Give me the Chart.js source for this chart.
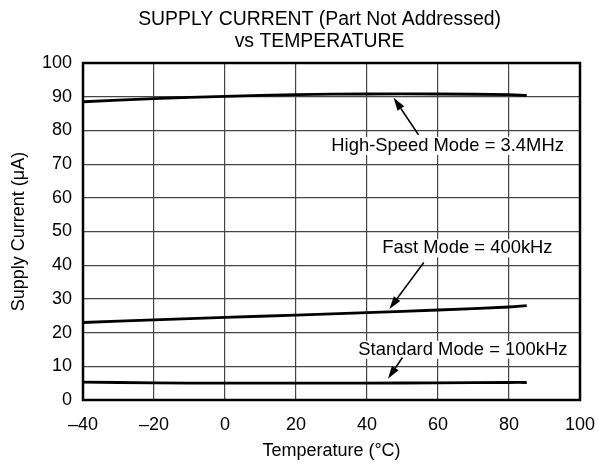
<!DOCTYPE html>
<html><head><meta charset="utf-8">
<script src="https://cdn.jsdelivr.net/npm/chart.js@4"></script>
<style>html,body{margin:0;padding:0;background:#fff}</style>
</head><body>
<canvas id="c" width="600" height="468"></canvas>
<script>
// ---- data ----
const temperatures = [-40, -20, 0, 20, 40, 60, 80, 85];
const highSpeedMode = [88.5, 89.4, 90.1, 90.6, 90.8, 90.8, 90.6, 90.4];
const fastMode = [23.0, 23.8, 24.5, 25.2, 25.9, 26.7, 27.6, 28.0];
const standardMode = [5.3, 5.1, 5.0, 5.0, 5.0, 5.1, 5.2, 5.2];
const xTickValues = [-40, -20, 0, 20, 40, 60, 80, 100];
const yTickValues = [0, 10, 20, 30, 40, 50, 60, 70, 80, 90, 100];
const titleLines = ['SUPPLY CURRENT (Part Not Addressed)', 'vs TEMPERATURE'];
const xAxisTitle = 'Temperature (\u00B0C)';
const yAxisTitle = 'Supply Current (\u03BCA)';
const labelTexts = ['High-Speed Mode = 3.4MHz', 'Fast Mode = 400kHz', 'Standard Mode = 100kHz'];
// label anchor (data units) and arrow tail -> tip (data units)
const labelAnchors = [[62.7, 75.4], [68.3, 45.0], [67.0, 14.9]];
const arrowTails = [[54.5, 78.7], [56.0, 40.8], [50.0, 12.6]];
const arrowTips = [[47.5, 89.7], [46.3, 27.0], [45.9, 6.3]];

const FONT = '"Liberation Sans", Arial, Helvetica, sans-serif';
const toPts = ys => temperatures.map((t, i) => ({x: t, y: ys[i]}));
const dash = v => String(v).replace('-', '\u2013');

const overlay = {
  id: 'overlay',
  afterDatasetsDraw(chart) {
    const {ctx, chartArea: a, scales: {x, y}} = chart;
    ctx.save();
    ctx.font = '18.4px ' + FONT;
    ctx.textAlign = 'center';
    ctx.textBaseline = 'middle';
    labelTexts.forEach((t, i) => {
      const px = x.getPixelForValue(labelAnchors[i][0]);
      const py = y.getPixelForValue(labelAnchors[i][1]);
      const w = ctx.measureText(t).width;
      ctx.fillStyle = '#fff';
      ctx.fillRect(px - w / 2 - 1, py - 9, w + 2, 18);
      ctx.fillStyle = '#000';
      ctx.fillText(t, px, py);
      // arrow
      const x0 = x.getPixelForValue(arrowTails[i][0]), y0 = y.getPixelForValue(arrowTails[i][1]);
      const x1 = x.getPixelForValue(arrowTips[i][0]), y1 = y.getPixelForValue(arrowTips[i][1]);
      const ang = Math.atan2(y1 - y0, x1 - x0);
      const L = 13, W = 4;
      const bx = x1 - L * Math.cos(ang), by = y1 - L * Math.sin(ang);
      ctx.strokeStyle = '#000';
      ctx.lineWidth = 1.5;
      ctx.beginPath(); ctx.moveTo(x0, y0); ctx.lineTo(bx, by); ctx.stroke();
      ctx.beginPath();
      ctx.moveTo(x1, y1);
      ctx.lineTo(bx + W * Math.sin(ang), by - W * Math.cos(ang));
      ctx.lineTo(bx - W * Math.sin(ang), by + W * Math.cos(ang));
      ctx.closePath(); ctx.fillStyle = '#000'; ctx.fill();
    });
    // frame
    ctx.strokeStyle = '#000';
    ctx.lineWidth = 2.5;
    ctx.strokeRect(a.left, a.top, a.right - a.left, a.bottom - a.top);
    // title
    ctx.font = '19.4px ' + FONT;
    ctx.fillStyle = '#000';
    const cx = a.left + (a.right - a.left) * 0.476;
    titleLines.forEach((t, i) => ctx.fillText(t, cx, a.top - 43 + i * 22));
    ctx.restore();
  }
};

new Chart(document.getElementById('c'), {
  type: 'line',
  data: {
    datasets: [
      {data: toPts(highSpeedMode)},
      {data: toPts(fastMode)},
      {data: toPts(standardMode)}
    ].map(d => Object.assign(d, {borderColor: '#000', borderWidth: 2.8, pointRadius: 0, tension: 0.4, fill: false}))
  },
  options: {
    responsive: false,
    animation: false,
    events: [],
    layout: {padding: {top: 63, right: 20, left: 0, bottom: 0}},
    plugins: {legend: {display: false}, tooltip: {enabled: false}, title: {display: false}},
    scales: {
      x: {
        type: 'linear', min: -40, max: 100,
        afterBuildTicks: s => { s.ticks = xTickValues.map(v => ({value: v})); },
        afterFit: s => { s.height = 68; s.paddingRight = 0; s.paddingLeft = 0; },
        grid: {color: '#444', lineWidth: 1.2, drawTicks: false},
        border: {display: false},
        ticks: {color: '#000', font: {size: 18, family: FONT}, padding: 14, callback: v => dash(v), maxRotation: 0},
        title: {display: true, text: xAxisTitle, color: '#000', font: {size: 18, family: FONT}, padding: {top: 0, bottom: 6}}
      },
      y: {
        type: 'linear', min: 0, max: 100,
        afterBuildTicks: s => { s.ticks = yTickValues.map(v => ({value: v})); },
        afterFit: s => { s.width = 83; },
        grid: {color: '#444', lineWidth: 1.2, drawTicks: false},
        border: {display: false},
        ticks: {color: '#000', font: {size: 18, family: FONT}, padding: 11},
        title: {display: true, text: yAxisTitle, color: '#000', font: {size: 18, family: FONT}, padding: {top: 8, bottom: 0}}
      }
    }
  },
  plugins: [overlay]
});
</script>
</body></html>
